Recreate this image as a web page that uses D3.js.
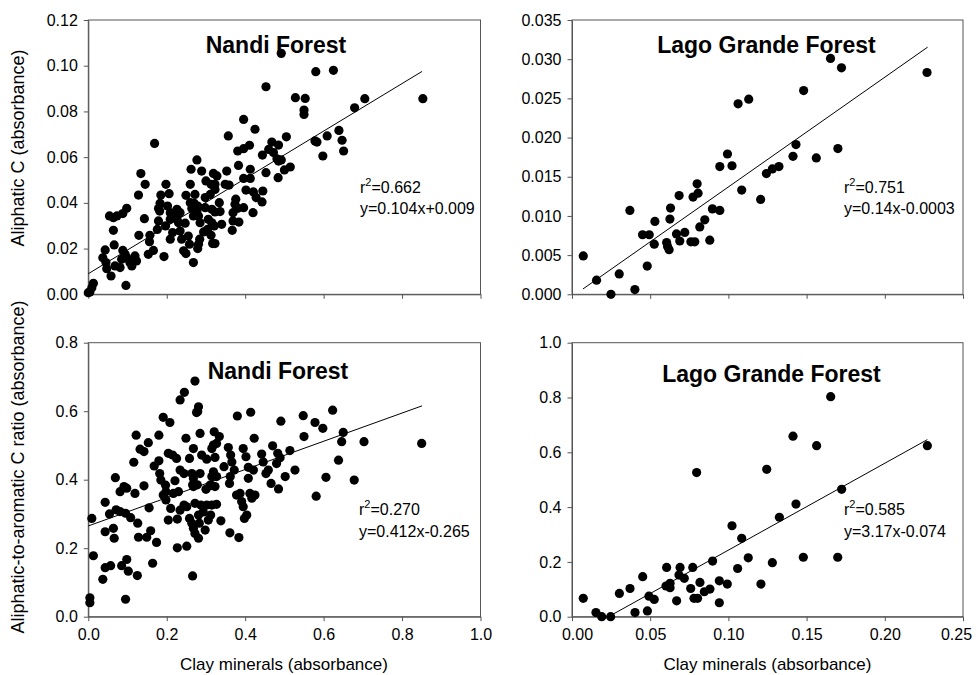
<!DOCTYPE html>
<html><head><meta charset="utf-8">
<script src="https://cdn.jsdelivr.net/npm/d3@7"></script>
<style>
html,body{margin:0;padding:0;background:#fff;}
svg{display:block;font-family:"Liberation Sans",Arial,Helvetica,sans-serif;}
</style></head>
<body>
<svg id="chart" width="976" height="675"></svg>
<script>
// ---------- DATA ----------
const nandiAliphatic = [
[0.492,0.1054],[0.580,0.0974],[0.625,0.0980],[0.853,0.0856],[0.705,0.0856],[0.679,0.0816],[0.453,0.0908],
[0.528,0.0860],[0.553,0.0857],[0.550,0.0806],[0.550,0.0787],[0.396,0.0765],[0.425,0.0722],[0.639,0.0717],
[0.609,0.0693],[0.647,0.0674],[0.651,0.0627],[0.578,0.0671],[0.583,0.0666],[0.598,0.0605],[0.505,0.0689],
[0.468,0.0666],[0.485,0.0653],[0.357,0.0693],[0.169,0.0660],[0.411,0.0652],[0.396,0.0637],[0.381,0.0627],
[0.444,0.0609],[0.460,0.0634],[0.472,0.0620],[0.481,0.0593],[0.492,0.0588],[0.485,0.0583],[0.515,0.0557],
[0.500,0.0544],[0.484,0.0510],[0.453,0.0532],[0.383,0.0564],[0.413,0.0547],[0.413,0.0507],[0.396,0.0507],
[0.277,0.0588],[0.262,0.0547],[0.289,0.0539],[0.353,0.0539],[0.319,0.0529],[0.328,0.0518],[0.300,0.0496],
[0.313,0.0481],[0.323,0.0481],[0.349,0.0481],[0.359,0.0478],[0.260,0.0481],[0.134,0.0528],[0.145,0.0481],
[0.198,0.0481],[0.128,0.0434],[0.185,0.0434],[0.206,0.0440],[0.183,0.0398],[0.202,0.0386],[0.179,0.0375],
[0.182,0.0364],[0.249,0.0433],[0.272,0.0437],[0.270,0.0398],[0.260,0.0401],[0.264,0.0375],[0.277,0.0364],
[0.281,0.0343],[0.298,0.0423],[0.311,0.0437],[0.323,0.0459],[0.298,0.0379],[0.315,0.0372],[0.323,0.0360],
[0.336,0.0362],[0.306,0.0328],[0.315,0.0313],[0.321,0.0299],[0.340,0.0306],[0.369,0.0357],[0.381,0.0376],
[0.369,0.0321],[0.384,0.0316],[0.367,0.0280],[0.396,0.0379],[0.420,0.0357],[0.374,0.0394],[0.402,0.0456],
[0.421,0.0448],[0.428,0.0423],[0.443,0.0404],[0.445,0.0452],[0.376,0.0416],[0.179,0.0321],[0.143,0.0331],
[0.129,0.0258],[0.157,0.0258],[0.156,0.0230],[0.153,0.0175],[0.166,0.0192],[0.193,0.0165],[0.176,0.0284],
[0.197,0.0299],[0.209,0.0241],[0.215,0.0270],[0.226,0.0328],[0.230,0.0313],[0.234,0.0277],[0.238,0.0241],
[0.243,0.0190],[0.249,0.0178],[0.247,0.0311],[0.255,0.0255],[0.258,0.0219],[0.268,0.0139],[0.281,0.0219],
[0.279,0.0200],[0.284,0.0241],[0.294,0.0273],[0.304,0.0284],[0.313,0.0258],[0.317,0.0222],[0.323,0.0222],
[0.209,0.0328],[0.054,0.0343],[0.064,0.0335],[0.073,0.0343],[0.088,0.0353],[0.098,0.0376],[0.064,0.0280],
[0.066,0.0216],[0.043,0.0194],[0.037,0.0160],[0.045,0.0139],[0.047,0.0112],[0.058,0.0080],[0.068,0.0124],
[0.081,0.0117],[0.088,0.0192],[0.094,0.0175],[0.085,0.0153],[0.098,0.0160],[0.106,0.0139],[0.111,0.0124],
[0.119,0.0168],[0.123,0.0146],[0.096,0.0039],[0.013,0.0048],[0.009,0.0029],[0.004,0.0010],[0.000,0.0007],
[0.226,0.0372],[0.234,0.0357],[0.221,0.0343],[0.209,0.0357],[0.268,0.0343],[0.279,0.0386],[0.285,0.0313],
[0.334,0.0401]
];
const lagoAliphatic = [
[0.0072,0.0049],[0.0157,0.0018],[0.0249,0.0000],[0.0302,0.0026],[0.0402,0.0006],[0.0370,0.0107],[0.0481,0.0036],
[0.0451,0.0076],[0.0494,0.0076],[0.0530,0.0093],[0.0526,0.0064],[0.0605,0.0066],[0.0611,0.0061],[0.0621,0.0057],
[0.0626,0.0096],[0.0630,0.0110],[0.0668,0.0077],[0.0689,0.0068],[0.0721,0.0079],[0.0685,0.0126],[0.0760,0.0067],
[0.0785,0.0067],[0.0774,0.0124],[0.0806,0.0129],[0.0800,0.0141],[0.0817,0.0086],[0.0849,0.0095],[0.0881,0.0069],
[0.0898,0.0109],[0.0945,0.0107],[0.0945,0.0163],[0.0994,0.0179],[0.1023,0.0164],[0.1062,0.0243],[0.1130,0.0249],
[0.1085,0.0133],[0.1206,0.0121],[0.1243,0.0154],[0.1281,0.0160],[0.1323,0.0163],[0.1413,0.0176],[0.1432,0.0191],
[0.1562,0.0174],[0.1481,0.0260],[0.1653,0.0301],[0.1723,0.0289],[0.1700,0.0186],[0.2270,0.0283]
];
const nandiRatio = [
[0.272,0.688],[0.245,0.655],[0.234,0.633],[0.281,0.613],[0.279,0.599],[0.276,0.596],[0.191,0.582],[0.208,0.567],
[0.414,0.597],[0.380,0.586],[0.491,0.571],[0.548,0.587],[0.578,0.567],[0.598,0.550],[0.623,0.603],[0.650,0.538],
[0.646,0.511],[0.703,0.511],[0.850,0.506],[0.550,0.526],[0.638,0.457],[0.606,0.407],[0.678,0.399],[0.581,0.352],
[0.122,0.530],[0.153,0.508],[0.180,0.530],[0.132,0.489],[0.142,0.482],[0.116,0.451],[0.168,0.440],[0.180,0.455],
[0.182,0.418],[0.185,0.399],[0.197,0.384],[0.198,0.365],[0.191,0.355],[0.198,0.341],[0.204,0.477],[0.215,0.472],
[0.225,0.462],[0.221,0.397],[0.210,0.316],[0.217,0.360],[0.230,0.365],[0.234,0.428],[0.244,0.418],[0.249,0.521],
[0.285,0.535],[0.268,0.491],[0.258,0.462],[0.264,0.418],[0.268,0.404],[0.266,0.385],[0.278,0.385],[0.285,0.418],
[0.289,0.472],[0.302,0.460],[0.300,0.372],[0.310,0.382],[0.321,0.540],[0.327,0.506],[0.319,0.501],[0.315,0.491],
[0.323,0.465],[0.334,0.526],[0.319,0.423],[0.315,0.409],[0.312,0.385],[0.323,0.380],[0.327,0.409],[0.346,0.438],
[0.357,0.494],[0.363,0.472],[0.366,0.452],[0.372,0.428],[0.362,0.409],[0.360,0.389],[0.378,0.355],[0.387,0.360],
[0.395,0.491],[0.402,0.467],[0.391,0.336],[0.395,0.321],[0.408,0.436],[0.408,0.404],[0.412,0.360],[0.417,0.346],
[0.425,0.355],[0.423,0.521],[0.421,0.428],[0.404,0.297],[0.398,0.287],[0.442,0.475],[0.446,0.452],[0.453,0.418],
[0.459,0.428],[0.470,0.499],[0.483,0.477],[0.489,0.464],[0.480,0.447],[0.514,0.485],[0.527,0.428],[0.502,0.409],
[0.466,0.389],[0.485,0.373],[0.009,0.287],[0.043,0.334],[0.054,0.300],[0.071,0.312],[0.081,0.307],[0.069,0.406],
[0.081,0.365],[0.091,0.380],[0.098,0.375],[0.095,0.302],[0.108,0.289],[0.119,0.360],[0.142,0.382],[0.126,0.273],
[0.155,0.318],[0.043,0.248],[0.064,0.258],[0.066,0.229],[0.128,0.232],[0.149,0.232],[0.159,0.251],[0.174,0.217],
[0.013,0.178],[0.037,0.109],[0.043,0.143],[0.057,0.149],[0.085,0.149],[0.098,0.167],[0.102,0.133],[0.125,0.120],
[0.164,0.156],[0.095,0.051],[0.004,0.055],[0.004,0.041],[0.227,0.201],[0.251,0.206],[0.266,0.119],[0.204,0.282],
[0.227,0.285],[0.234,0.311],[0.244,0.326],[0.251,0.321],[0.258,0.287],[0.264,0.273],[0.268,0.258],[0.272,0.243],
[0.272,0.331],[0.281,0.297],[0.287,0.326],[0.281,0.229],[0.268,0.380],[0.298,0.253],[0.306,0.282],[0.312,0.297],
[0.302,0.326],[0.315,0.326],[0.327,0.328],[0.338,0.280],[0.361,0.245],[0.384,0.231],[0.293,0.306],[0.283,0.273]
];
const lagoRatio = [
[0.0072,0.067],[0.0153,0.015],[0.0190,0.000],[0.0247,0.000],[0.0303,0.085],[0.0371,0.103],[0.0403,0.015],
[0.0452,0.146],[0.0482,0.021],[0.0492,0.075],[0.0526,0.063],[0.0605,0.180],[0.0601,0.112],[0.0627,0.122],
[0.0627,0.106],[0.0669,0.058],[0.0691,0.180],[0.0684,0.152],[0.0718,0.140],[0.0759,0.103],[0.0772,0.180],
[0.0797,0.526],[0.0780,0.067],[0.0803,0.067],[0.0818,0.125],[0.0846,0.091],[0.0882,0.101],[0.0899,0.203],
[0.0942,0.131],[0.0942,0.051],[0.0993,0.119],[0.1023,0.332],[0.1059,0.176],[0.1085,0.286],[0.1127,0.215],
[0.1208,0.119],[0.1245,0.538],[0.1281,0.197],[0.1326,0.363],[0.1413,0.659],[0.1432,0.411],[0.1479,0.217],
[0.1564,0.624],[0.1654,0.803],[0.1699,0.217],[0.1724,0.465],[0.2272,0.624]
];
// regression fits: [slope, intercept, xStart, xEnd]
const fitNandiAliphatic = [0.104, 0.009, 0.0, 0.851];
const fitLagoAliphatic  = [0.14, -0.0003, 0.007, 0.2274];
const fitNandiRatio     = [0.412, 0.265, 0.0, 0.851];
const fitLagoRatio      = [3.17, -0.074, 0.0255, 0.2272];
// tick values
const nandiXTicks = [0.0, 0.2, 0.4, 0.6, 0.8, 1.0];
const lagoXTicks = [0.00, 0.05, 0.10, 0.15, 0.20, 0.25];
const nandiAliphTicks = [0.00, 0.02, 0.04, 0.06, 0.08, 0.10, 0.12];
const lagoAliphTicks = [0.000, 0.005, 0.010, 0.015, 0.020, 0.025, 0.030, 0.035];
const nandiRatioTicks = [0.0, 0.2, 0.4, 0.6, 0.8];
const lagoRatioTicks = [0.0, 0.2, 0.4, 0.6, 0.8, 1.0];
// texts
const titles = ["Nandi Forest", "Lago Grande Forest", "Nandi Forest", "Lago Grande Forest"];
const r2Labels = ["0.662", "0.751", "0.270", "0.585"];
const eqLabels = ["y=0.104x+0.009", "y=0.14x-0.0003", "y=0.412x-0.265", "y=3.17x-0.074"];
const xTitle = "Clay minerals (absorbance)";
const yTitles = ["Aliphatic C (absorbance)", "Aliphatic-to-aromatic C ratio (absorbance)"];

// ---------- DRAW ----------
const svg = d3.select("#chart");
const panels = [
  {pts: nandiAliphatic, fit: fitNandiAliphatic, xr:[88.3,480.5], yr:[294.3,20], xd:[0,1], yd:[0,0.12],
   xt: nandiXTicks, yt: nandiAliphTicks, xf: null, yf: ".2f", title: titles[0], tx: 276, ty: 53,
   r2: r2Labels[0], eq: eqLabels[0], ax: 360, ay: 192.5, edge: [0,0]},
  {pts: lagoAliphatic, fit: fitLagoAliphatic, xr:[572,963], yr:[294.3,20], xd:[0,0.25], yd:[0,0.035],
   xt: lagoXTicks, yt: lagoAliphTicks, xf: null, yf: ".3f", title: titles[1], tx: 766.5, ty: 53,
   r2: r2Labels[1], eq: eqLabels[1], ax: 844, ay: 192.5, edge: [0,0]},
  {pts: nandiRatio, fit: fitNandiRatio, xr:[88.3,480.5], yr:[616.7,342.7], xd:[0,1], yd:[0,0.8],
   xt: nandiXTicks, yt: nandiRatioTicks, xf: ".1f", yf: ".1f", title: titles[2], tx: 278, ty: 378.5,
   r2: r2Labels[2], eq: eqLabels[2], ax: 359, ay: 515, edge: [0,0]},
  {pts: lagoRatio, fit: fitLagoRatio, xr:[572,963], yr:[616.7,342.7], xd:[0,0.25], yd:[0,1.0],
   xt: lagoXTicks, yt: lagoRatioTicks, xf: ".2f", yf: ".1f", title: titles[3], tx: 771.5, ty: 382,
   r2: r2Labels[3], eq: eqLabels[3], ax: 844, ay: 515, edge: [5,-7]}
];
const axisColor = "#555";

panels.forEach(p => {
  const x = d3.scaleLinear().domain(p.xd).range(p.xr);
  const y = d3.scaleLinear().domain(p.yd).range(p.yr);
  const g = svg.append("g");

  // frame
  g.append("rect").attr("x", p.xr[0]).attr("y", p.yr[1])
    .attr("width", p.xr[1]-p.xr[0]).attr("height", p.yr[0]-p.yr[1])
    .attr("fill","none").attr("stroke", axisColor).attr("stroke-width",1);

  // y axis
  const ya = g.append("g").attr("transform", `translate(${p.xr[0]},0)`)
    .call(d3.axisLeft(y).tickValues(p.yt).tickFormat(d3.format(p.yf)).tickSize(4.5).tickSizeOuter(0).tickPadding(6));
  // x axis
  const xa = g.append("g").attr("transform", `translate(0,${p.yr[0]})`)
    .call(d3.axisBottom(x).tickValues(p.xt).tickFormat(p.xf ? d3.format(p.xf) : () => "")
      .tickSize(4.5).tickSizeOuter(0).tickPadding(7));
  [ya, xa].forEach(a => {
    a.select(".domain").attr("stroke", axisColor);
    a.selectAll(".tick line").attr("stroke", axisColor);
    a.selectAll(".tick text").attr("fill","#000").style("font-size","16px")
      .style("font-family",'"Liberation Sans",Arial,sans-serif');
  });
  const xt = xa.selectAll(".tick text");
  const n = xt.size();
  xt.attr("dx", (d,i) => i === 0 ? p.edge[0] : (i === n-1 ? p.edge[1] : 0));

  // regression line
  const [m, b, x0, x1] = p.fit;
  g.append("line").attr("x1", x(x0)).attr("y1", y(m*x0+b)).attr("x2", x(x1)).attr("y2", y(m*x1+b))
    .attr("stroke","#000").attr("stroke-width",1);

  // points
  g.selectAll("circle.pt").data(p.pts).join("circle").attr("class","pt")
    .attr("cx", d => x(d[0])).attr("cy", d => y(d[1])).attr("r", 4.6).attr("fill","#000");

  // title
  g.append("text").attr("x", p.tx).attr("y", p.ty).attr("text-anchor","middle")
    .style("font-size","23px").style("font-weight","bold").text(p.title);

  // annotations
  const t = g.append("text").attr("x", p.ax).attr("y", p.ay).style("font-size","16px");
  t.append("tspan").text("r");
  t.append("tspan").attr("dy", -7).style("font-size","11px").text("2");
  t.append("tspan").attr("dy", 7).text("=" + p.r2);
  g.append("text").attr("x", p.ax).attr("y", p.ay + 21.5).style("font-size","16px").text(p.eq);
});

// axis titles
svg.append("text").attr("transform","translate(24,148) rotate(-90)").attr("text-anchor","middle")
  .style("font-size","18px").text(yTitles[0]);
svg.append("text").attr("transform","translate(24,467) rotate(-90)").attr("text-anchor","middle")
  .style("font-size","18px").text(yTitles[1]);
svg.append("text").attr("x", 284).attr("y", 670).attr("text-anchor","middle")
  .style("font-size","17px").text(xTitle);
svg.append("text").attr("x", 767.5).attr("y", 670).attr("text-anchor","middle")
  .style("font-size","17px").text(xTitle);
</script>
</body></html>
